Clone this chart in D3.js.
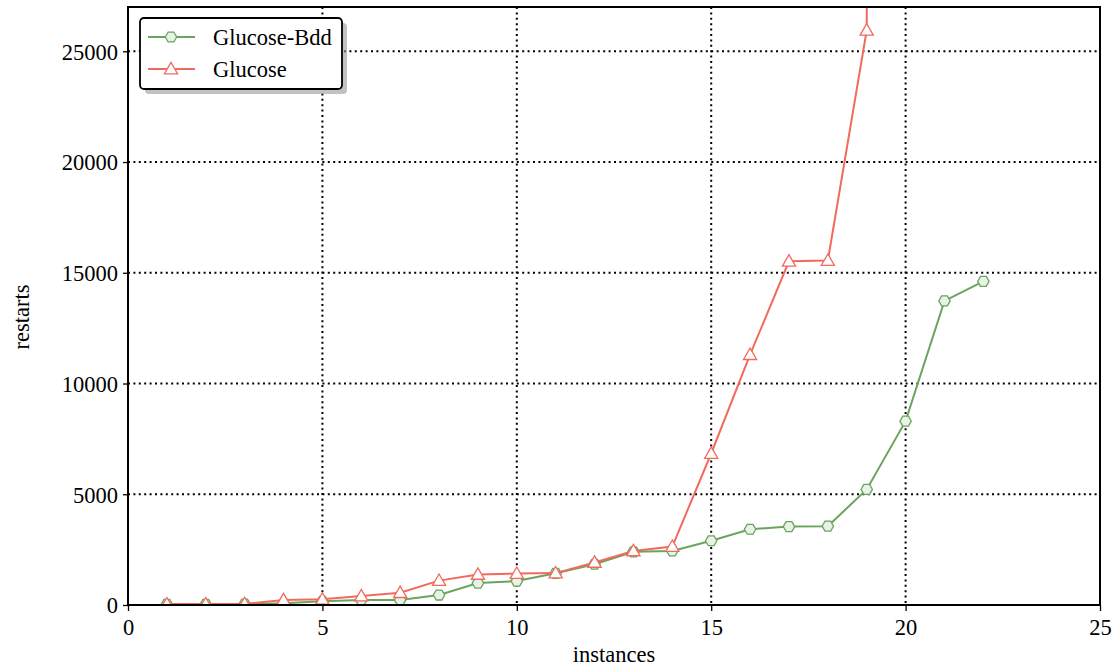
<!DOCTYPE html>
<html>
<head>
<meta charset="utf-8">
<script src="https://cdn.jsdelivr.net/npm/d3@7"></script>
<style>
  html, body { margin:0; padding:0; background:#fff; }
  svg text { font-family:"Liberation Serif","DejaVu Serif",serif; fill:#000; }
</style>
</head>
<body>
<svg id="chart" width="1118" height="669"></svg>
<script>
'use strict';
// data
const bddX = [1,2,3,4,5,6,7,8,9,10,11,12,13,14,15,16,17,18,19,20,21,22];
const bddY = [30,30,40,80,165,225,230,450,990,1080,1430,1840,2400,2440,2900,3420,3540,3560,5220,8300,13730,14610];
const gluX = [1,2,3,4,5,6,7,8,9,10,11,12,13,14,15,16,17,18,19,20];
const gluY = [40,40,50,225,255,405,555,1100,1380,1420,1440,1920,2440,2640,6840,11300,15520,15550,25950,600000];
const xTicks = [0,5,10,15,20,25];
const yTicks = [0,5000,10000,15000,20000,25000];
const seriesNames = ['Glucose-Bdd','Glucose'];

const GREEN = '#6aa45e', RED = '#f26a5e';
const FS = '22.5px';
const L = 128, R = 1100, T = 7, B = 605;
const svg = d3.select('#chart');
const x = d3.scaleLinear().domain([0,25]).range([L,R]);
const y = d3.scaleLinear().domain([0,27000]).range([B,T]);

svg.append('defs').append('clipPath').attr('id','plot')
  .append('rect').attr('x',L).attr('y',T).attr('width',R-L).attr('height',B-T);

// grid
const grid = svg.append('g').attr('stroke','#000').attr('stroke-width',2).attr('stroke-dasharray','2,3.4');
grid.selectAll('.gx').data(xTicks.slice(1,-1)).join('line')
  .attr('x1',d=>x(d)).attr('x2',d=>x(d)).attr('y1',T).attr('y2',B);
grid.selectAll('.gy').data(yTicks.slice(1)).join('line')
  .attr('y1',d=>y(d)).attr('y2',d=>y(d)).attr('x1',L).attr('x2',R);

// axes
const xAxis = svg.append('g').attr('transform',`translate(0,${B})`)
  .call(d3.axisBottom(x).tickValues(xTicks).tickSize(6).tickPadding(5).tickFormat(d3.format('d')));
const yAxis = svg.append('g').attr('transform',`translate(${L},0)`)
  .call(d3.axisLeft(y).tickValues(yTicks).tickSize(5).tickPadding(5).tickFormat(d3.format('d')));
[xAxis,yAxis].forEach(a => {
  a.select('.domain').remove();
  a.selectAll('line').attr('stroke','#000').attr('stroke-width',1.3);
  a.selectAll('text').style('font-size',FS).attr('font-family','Liberation Serif');
});
xAxis.selectAll('text').attr('dy','0.85em');
yAxis.selectAll('text').attr('dy','0.35em');

// series
const plot = svg.append('g').attr('clip-path','url(#plot)');
const line = d3.line().x(d=>x(d[0])).y(d=>y(d[1]));
const hex = d3.symbol().type({ draw(ctx, size) {
  const r = Math.sqrt(size/2.6);
  for (let i=0;i<6;i++) { const a = Math.PI/3*i; const px=r*Math.cos(a), py=r*Math.sin(a); i?ctx.lineTo(px,py):ctx.moveTo(px,py); }
  ctx.closePath();
}}).size(85);
const tri = d3.symbol().type(d3.symbolTriangle).size(75);

const bdd = bddX.map((v,i)=>[v,bddY[i]]);
const glu = gluX.map((v,i)=>[v,gluY[i]]);
plot.append('path').datum(bdd).attr('d',line).attr('fill','none').attr('stroke',GREEN).attr('stroke-width',2);
plot.selectAll('.mb').data(bdd).join('path').attr('d',hex)
  .attr('transform',d=>`translate(${x(d[0])},${y(d[1])})`)
  .attr('fill','#e9f2e6').attr('stroke',GREEN).attr('stroke-width',1.3);
plot.append('path').datum(glu).attr('d',line).attr('fill','none').attr('stroke',RED).attr('stroke-width',2);
plot.selectAll('.mg').data(glu).join('path').attr('d',tri)
  .attr('transform',d=>`translate(${x(d[0])},${y(d[1])+1})`)
  .attr('fill','#fff').attr('stroke',RED).attr('stroke-width',1.3);

// frame
svg.append('rect').attr('x',L).attr('y',T).attr('width',R-L).attr('height',B-T)
  .attr('fill','none').attr('stroke','#000').attr('stroke-width',2);

// axis labels
svg.append('text').attr('x',(L+R)/2).attr('y',662).attr('text-anchor','middle').style('font-size',FS).text('instances');
svg.append('text').attr('transform','translate(29,317) rotate(-90)').attr('text-anchor','middle').style('font-size',FS).text('restarts');

// legend
const lg = svg.append('g');
lg.append('rect').attr('x',145).attr('y',23).attr('width',202).attr('height',71).attr('rx',4).attr('fill','#9a9a9a').attr('opacity',0.6);
lg.append('rect').attr('x',140).attr('y',18).attr('width',202).attr('height',71).attr('rx',4)
  .attr('fill','#fff').attr('stroke','#000').attr('stroke-width',1.8);
const items = lg.selectAll('.li').data(seriesNames).join('g').attr('transform',(d,i)=>`translate(0,${37+i*32})`);
items.append('line').attr('x1',148).attr('x2',195).attr('y1',0).attr('y2',0)
  .attr('stroke',(d,i)=>i?RED:GREEN).attr('stroke-width',2);
items.append('path').attr('d',(d,i)=>i?tri():hex()).attr('transform',(d,i)=>`translate(171,${i?1:0})`)
  .attr('fill',(d,i)=>i?'#fff':'#e9f2e6').attr('stroke',(d,i)=>i?RED:GREEN).attr('stroke-width',1.3);
items.append('text').attr('x',213).attr('y',0).attr('dy','0.35em').style('font-size',FS).text(d=>d);
</script>
</body>
</html>
